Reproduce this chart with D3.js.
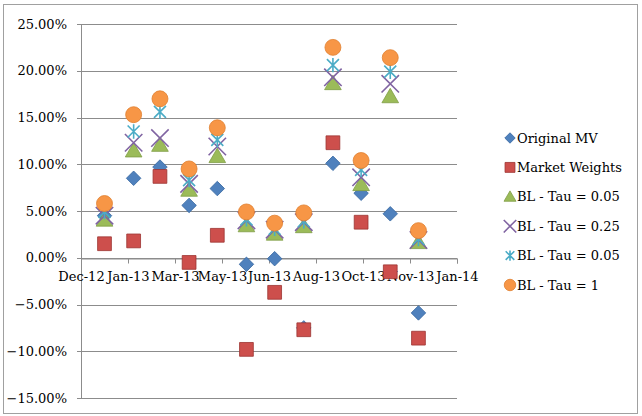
<!DOCTYPE html>
<html>
<head>
<meta charset="utf-8">
<script src="https://cdn.jsdelivr.net/npm/d3@7"></script>
<style>
  body { margin: 0; background: #fff; }
  text { font-family: "DejaVu Serif", serif; fill: #000; }
</style>
</head>
<body>
<div id="chart"></div>
<script>
// month-end dates of the returns
const dates = ["2012-12-31", "2013-01-31", "2013-02-28", "2013-03-31", "2013-04-30", "2013-05-31",
               "2013-06-30", "2013-07-31", "2013-08-31", "2013-09-30", "2013-10-31", "2013-11-30"];

// values in percent
const originalMV    = [4.5, 8.5, 9.7, 5.6, 7.4, -0.7, -0.1, -7.5, 10.1, 6.9, 4.7, -5.9];
const marketWeights = [1.5, 1.8, 8.7, -0.5, 2.4, -9.8, -3.7, -7.7, 12.3, 3.8, -1.5, -8.6];
const blTau005      = [4.0, 11.4, 12.0, 7.2, 10.8, 3.4, 2.5, 3.3, 18.6, 7.8, 17.2, 1.6];
const blTau025      = [4.5, 12.3, 12.8, 7.9, 11.9, 4.0, 3.0, 3.8, 19.3, 8.6, 18.6, 1.9];
const blTau005b     = [4.9, 13.5, 15.6, 8.3, 12.6, 4.1, 3.1, 3.9, 20.6, 9.4, 19.9, 2.0];
const blTau1        = [5.8, 15.3, 17.0, 9.5, 13.9, 4.9, 3.7, 4.8, 22.5, 10.4, 21.4, 2.9];

const seriesNames = ["Original MV", "Market Weights", "BL - Tau = 0.05", "BL - Tau = 0.25", "BL - Tau = 0.05", "BL - Tau = 1"];
const yTicks = [-15, -10, -5, 0, 5, 10, 15, 20, 25];

const width = 642, height = 416;
const margin = { left: 81, right: 185, top: 24, bottom: 18 };

const svg = d3.select("#chart").append("svg")
    .attr("width", width)
    .attr("height", height);

// chart border
svg.append("rect")
    .attr("x", 3.5).attr("y", 4.5)
    .attr("width", 634).attr("height", 409)
    .attr("fill", "none")
    .attr("stroke", "#a0a0a0");

// date axis: 50-day major unit like the original
const start = new Date(2012, 11, 6);
const end = d3.timeDay.offset(start, 400);
const x = d3.scaleTime()
    .domain([start, end])
    .range([margin.left, width - margin.right]);

const y = d3.scaleLinear()
    .domain([-15, 25])
    .range([height - margin.bottom, margin.top]);

const parse = d3.timeParse("%Y-%m-%d");
const xTicks = d3.range(0, 401, 50).map(d => d3.timeDay.offset(start, d));

// grid lines
svg.append("g")
    .selectAll("line")
    .data(yTicks)
    .join("line")
    .attr("x1", margin.left - 4)
    .attr("x2", width - margin.right)
    .attr("y1", d => Math.round(y(d)) + 0.5)
    .attr("y2", d => Math.round(y(d)) + 0.5)
    .attr("stroke", "#8c8c8c")
    .attr("stroke-width", 1);

// y axis line
svg.append("line")
    .attr("x1", margin.left + 0.5).attr("x2", margin.left + 0.5)
    .attr("y1", y(25)).attr("y2", y(-15))
    .attr("stroke", "#8c8c8c");

// y labels
svg.append("g")
    .selectAll("text")
    .data(yTicks)
    .join("text")
    .attr("x", margin.left - 14)
    .attr("y", d => y(d))
    .attr("dy", "0.36em")
    .attr("text-anchor", "end")
    .style("font-size", "13px")
    .text(d => d3.format(".2f")(d) + "%");

// x axis at zero
const xAxis = svg.append("g")
    .attr("transform", `translate(0,${Math.round(y(0)) + 0.5})`)
    .call(d3.axisBottom(x).tickValues(xTicks).tickFormat(d3.timeFormat("%b-%y")).tickSize(5).tickPadding(8));
xAxis.select(".domain").attr("stroke", "#8c8c8c");
xAxis.selectAll(".tick line").attr("stroke", "#8c8c8c");
xAxis.selectAll(".tick text")
    .style("font-size", "13px")
    .style("font-family", "DejaVu Serif, serif")
    .attr("fill", "#000");

// series markers
const series = [
    { name: seriesNames[0], values: originalMV, type: "diamond", color: "#4f81bd", stroke: "#3a6aa3" },
    { name: seriesNames[1], values: marketWeights, type: "square", color: "#cd4f4c", stroke: "#9c3431" },
    { name: seriesNames[2], values: blTau005, type: "triangle", color: "#9bbb59", stroke: "#7f9d45" },
    { name: seriesNames[3], values: blTau025, type: "times", color: "#8064a2", stroke: "#8064a2" },
    { name: seriesNames[4], values: blTau005b, type: "star", color: "#4bacc6", stroke: "#4bacc6" },
    { name: seriesNames[5], values: blTau1, type: "circle", color: "#f79646", stroke: "#e07f2e" }
];

// excel style star: an X with a vertical bar
function starPath(r) {
    const p = d3.path();
    p.moveTo(-r, -r); p.lineTo(r, r);
    p.moveTo(-r, r); p.lineTo(r, -r);
    p.moveTo(0, -r * 1.2); p.lineTo(0, r * 1.2);
    return p.toString();
}

function markerPath(type, scale) {
    const s = scale * scale;
    if (type === "diamond") return d3.symbol(d3.symbolSquare, 105 * s)();
    if (type === "square") return d3.symbol(d3.symbolSquare, 190 * s)();
    if (type === "triangle") return d3.symbol(d3.symbolTriangle, 120 * s)();
    if (type === "times") return d3.symbol(d3.symbolTimes, 200 * s)();
    if (type === "star") return starPath(6 * scale);
    return d3.symbol(d3.symbolCircle, 200 * s)();
}

function drawMarker(g, sr, scale) {
    const stroked = sr.type === "times" || sr.type === "star";
    g.append("path")
        .attr("d", markerPath(sr.type, scale))
        .attr("transform", sr.type === "diamond" ? "rotate(45)" : sr.type === "triangle" ? "translate(0,1)" : null)
        .attr("fill", stroked ? "none" : sr.color)
        .attr("stroke", sr.stroke)
        .attr("stroke-width", stroked ? 1.6 : 0.8);
}

series.forEach(sr => {
    const g = svg.append("g");
    sr.values.forEach((v, i) => {
        const m = g.append("g")
            .attr("transform", `translate(${x(parse(dates[i]))},${y(v)})`);
        drawMarker(m, sr, 1);
    });
});

// legend
const legend = svg.append("g")
    .attr("transform", "translate(510,138)");

series.forEach((sr, i) => {
    const item = legend.append("g")
        .attr("transform", `translate(0,${i * 29.4})`);
    drawMarker(item, sr, 0.72);
    item.append("text")
        .attr("x", 7)
        .attr("dy", "0.36em")
        .style("font-size", "13px")
        .text(sr.name);
});
</script>
</body>
</html>
